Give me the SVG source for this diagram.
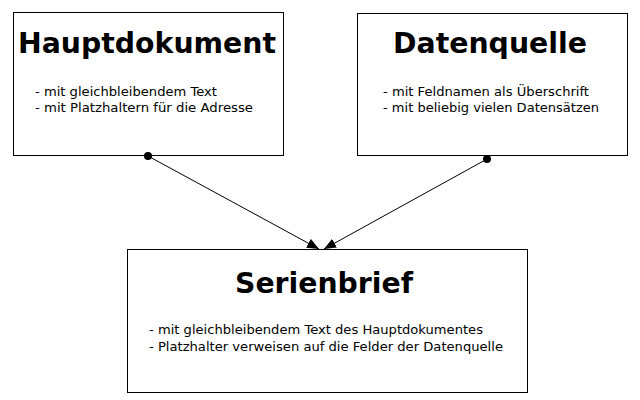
<svg xmlns="http://www.w3.org/2000/svg" width="640" height="400" viewBox="0 0 640 400">
<defs>
<style>
.box{fill:#fff;stroke:#000;stroke-width:1}
.t{font-family:"DejaVu Sans",Verdana,sans-serif;font-weight:bold;font-size:28px;fill:#000}
.b{font-family:"DejaVu Sans",Verdana,sans-serif;font-size:12px;fill:#000}
.c{stroke:#000;stroke-width:1;fill:none;marker-end:url(#ah);marker-start:url(#dot)}
</style>
<marker id="ah" viewBox="0 0 12 10" refX="12" refY="5" markerWidth="12" markerHeight="10" markerUnits="userSpaceOnUse" orient="auto"><path d="M0,0 L12,5 L0,10 z" fill="#000"/></marker>
<marker id="dot" viewBox="0 0 8 8" refX="4" refY="4" markerWidth="8" markerHeight="8" markerUnits="userSpaceOnUse"><circle cx="4" cy="4" r="4" fill="#000"/></marker>
</defs>
<rect width="640" height="400" fill="#fff"/>
<g id="hauptdokument">
<rect class="box" x="13.5" y="12.5" width="270" height="143"/>
<text class="t" x="18" y="53" textLength="258" lengthAdjust="spacingAndGlyphs">Hauptdokument</text>
<text class="b" x="35" y="96" textLength="182" lengthAdjust="spacingAndGlyphs">- mit gleichbleibendem Text</text>
<text class="b" x="35" y="112" textLength="218" lengthAdjust="spacingAndGlyphs">- mit Platzhaltern für die Adresse</text>
</g>
<g id="datenquelle">
<rect class="box" x="357.5" y="13.5" width="270" height="142"/>
<text class="t" x="393" y="53" textLength="194" lengthAdjust="spacingAndGlyphs">Datenquelle</text>
<text class="b" x="383" y="96" textLength="206" lengthAdjust="spacingAndGlyphs">- mit Feldnamen als Überschrift</text>
<text class="b" x="383" y="112" textLength="216" lengthAdjust="spacingAndGlyphs">- mit beliebig vielen Datensätzen</text>
</g>
<g id="serienbrief">
<rect class="box" x="127.5" y="249.5" width="400" height="143"/>
<text class="t" x="235" y="293" textLength="178" lengthAdjust="spacingAndGlyphs">Serienbrief</text>
<text class="b" x="149" y="334" textLength="334" lengthAdjust="spacingAndGlyphs">- mit gleichbleibendem Text des Hauptdokumentes</text>
<text class="b" x="149" y="351" textLength="354" lengthAdjust="spacingAndGlyphs">- Platzhalter verweisen auf die Felder der Datenquelle</text>
</g>
<g id="connectors">
<path class="c" d="M148,156 L319,249"/>
<path class="c" d="M487,159 L324,249"/>
</g>
</svg>
